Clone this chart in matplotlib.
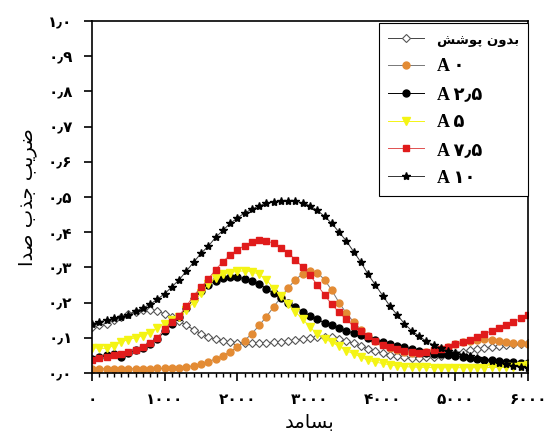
import matplotlib
matplotlib.use("Agg")
import matplotlib.pyplot as plt
from matplotlib.ticker import MultipleLocator, FixedLocator

# ---------------- data ----------------
freq = [0, 100, 200, 300, 400, 500, 600, 700, 800, 900,
        1000, 1100, 1200, 1300, 1400, 1500, 1600, 1700, 1800, 1900,
        2000, 2100, 2200, 2300, 2400, 2500, 2600, 2700, 2800, 2900,
        3000, 3100, 3200, 3300, 3400, 3500, 3600, 3700, 3800, 3900,
        4000, 4100, 4200, 4300, 4400, 4500, 4600, 4700, 4800, 4900,
        5000, 5100, 5200, 5300, 5400, 5500, 5600, 5700, 5800, 5900, 6000]

no_coating = [0.130, 0.135, 0.140, 0.150, 0.160, 0.168, 0.174, 0.178, 0.178, 0.175,
              0.168, 0.158, 0.147, 0.135, 0.123, 0.112, 0.103, 0.096, 0.091, 0.088,
              0.086, 0.085, 0.085, 0.085, 0.086, 0.087, 0.088, 0.091, 0.094, 0.097,
              0.099, 0.101, 0.102, 0.101, 0.097, 0.091, 0.084, 0.076, 0.069, 0.062,
              0.056, 0.051, 0.047, 0.044, 0.043, 0.043, 0.044, 0.046, 0.049, 0.053,
              0.057, 0.061, 0.065, 0.068, 0.071, 0.074, 0.077, 0.079, 0.081, 0.083, 0.085]

a0 = [0.012, 0.012, 0.012, 0.012, 0.012, 0.012, 0.012, 0.012, 0.012, 0.013,
      0.013, 0.014, 0.015, 0.017, 0.021, 0.026, 0.032, 0.040, 0.049, 0.060,
      0.074, 0.092, 0.112, 0.135, 0.160, 0.188, 0.215, 0.242, 0.265, 0.282,
      0.290, 0.285, 0.265, 0.235, 0.200, 0.170, 0.145, 0.123, 0.106, 0.092,
      0.081, 0.072, 0.066, 0.061, 0.058, 0.058, 0.060, 0.064, 0.069, 0.075,
      0.081, 0.087, 0.092, 0.095, 0.096, 0.095, 0.092, 0.089, 0.086, 0.084, 0.082]

a2_5 = [0.040, 0.045, 0.050, 0.055, 0.045, 0.058, 0.064, 0.072, 0.083, 0.097,
        0.118, 0.140, 0.160, 0.185, 0.210, 0.232, 0.250, 0.262, 0.270, 0.273,
        0.272, 0.268, 0.262, 0.252, 0.240, 0.226, 0.212, 0.200, 0.187, 0.174,
        0.162, 0.152, 0.143, 0.136, 0.128, 0.120, 0.113, 0.107, 0.100, 0.094,
        0.088, 0.083, 0.078, 0.074, 0.068, 0.062, 0.057, 0.055, 0.053, 0.051,
        0.048, 0.045, 0.042, 0.040, 0.038, 0.036, 0.034, 0.032, 0.030, 0.029, 0.028]

a5 = [0.072, 0.070, 0.070, 0.078, 0.088, 0.095, 0.100, 0.106, 0.115, 0.128,
      0.140, 0.150, 0.160, 0.180, 0.200, 0.228, 0.252, 0.270, 0.280, 0.285,
      0.289, 0.290, 0.288, 0.280, 0.265, 0.240, 0.218, 0.195, 0.173, 0.153,
      0.130, 0.110, 0.097, 0.087, 0.076, 0.063, 0.055, 0.045, 0.036, 0.031,
      0.027, 0.023, 0.020, 0.018, 0.017, 0.016, 0.016, 0.015, 0.015, 0.015,
      0.015, 0.015, 0.015, 0.015, 0.015, 0.016, 0.016, 0.016, 0.017, 0.019, 0.022]

a7_5 = [0.037, 0.042, 0.046, 0.050, 0.054, 0.059, 0.066, 0.074, 0.085, 0.100,
        0.125, 0.145, 0.163, 0.190, 0.220, 0.243, 0.267, 0.293, 0.316, 0.335,
        0.350, 0.362, 0.371, 0.377, 0.376, 0.368, 0.356, 0.340, 0.322, 0.300,
        0.278, 0.250, 0.222, 0.195, 0.172, 0.152, 0.133, 0.118, 0.104, 0.090,
        0.080, 0.074, 0.068, 0.062, 0.059, 0.058, 0.060, 0.064, 0.069, 0.075,
        0.081, 0.087, 0.094, 0.103, 0.111, 0.120, 0.129, 0.137, 0.145, 0.155, 0.165]

a10 = [0.140, 0.145, 0.150, 0.155, 0.160, 0.165, 0.175, 0.185, 0.195, 0.210,
       0.225, 0.245, 0.265, 0.290, 0.315, 0.340, 0.360, 0.385, 0.405, 0.425,
       0.440, 0.455, 0.465, 0.475, 0.482, 0.487, 0.490, 0.490, 0.488, 0.483,
       0.475, 0.462, 0.445, 0.425, 0.400, 0.375, 0.345, 0.315, 0.280, 0.250,
       0.220, 0.190, 0.165, 0.140, 0.120, 0.105, 0.090, 0.080, 0.070, 0.063,
       0.057, 0.052, 0.047, 0.042, 0.037, 0.033, 0.029, 0.025, 0.021, 0.018, 0.015]

x_tick_values = [0, 1000, 2000, 3000, 4000, 5000, 6000]
x_tick_labels = ["۰", "۱۰۰۰", "۲۰۰۰", "۳۰۰۰", "۴۰۰۰", "۵۰۰۰", "۶۰۰۰"]
y_tick_values = [0.0, 0.1, 0.2, 0.3, 0.4, 0.5, 0.6, 0.7, 0.8, 0.9, 1.0]
y_tick_labels = ["۰٫۰", "۰٫۱", "۰٫۲", "۰٫۳", "۰٫۴", "۰٫۵", "۰٫۶", "۰٫۷", "۰٫۸", "۰٫۹", "۱٫۰"]
x_label = "بسامد"
y_label = "ضریب جذب صدا"
series_labels = ["بدون پوشش", "A ۰", "A ۲٫۵", "A ۵", "A ۷٫۵", "A ۱۰"]

# -------------- simple Persian shaping (presentation forms + RTL) --------------
FORMS = {
    'ب': ('\uFE8F', '\uFE90', '\uFE91', '\uFE92'),
    'پ': ('\uFB56', '\uFB57', '\uFB58', '\uFB59'),
    'د': ('\uFEA9', '\uFEAA', None, None),
    'ذ': ('\uFEAB', '\uFEAC', None, None),
    'ر': ('\uFEAD', '\uFEAE', None, None),
    'و': ('\uFEED', '\uFEEE', None, None),
    'ا': ('\uFE8D', '\uFE8E', None, None),
    'ن': ('\uFEE5', '\uFEE6', '\uFEE7', '\uFEE8'),
    'س': ('\uFEB1', '\uFEB2', '\uFEB3', '\uFEB4'),
    'ش': ('\uFEB5', '\uFEB6', '\uFEB7', '\uFEB8'),
    'ص': ('\uFEB9', '\uFEBA', '\uFEBB', '\uFEBC'),
    'ض': ('\uFEBD', '\uFEBE', '\uFEBF', '\uFEC0'),
    'ج': ('\uFE9D', '\uFE9E', '\uFE9F', '\uFEA0'),
    'م': ('\uFEE1', '\uFEE2', '\uFEE3', '\uFEE4'),
    'ی': ('\uFBFC', '\uFBFD', '\uFBFE', '\uFBFF'),
}


def shape_fa(text):
    if not any(c in FORMS for c in text):
        return text
    out = []
    n = len(text)
    for i, c in enumerate(text):
        if c not in FORMS:
            out.append(c)
            continue
        f = FORMS[c]
        prev = text[i - 1] if i > 0 else None
        nxt = text[i + 1] if i < n - 1 else None
        join_prev = prev in FORMS and FORMS[prev][2] is not None
        join_next = nxt in FORMS and f[2] is not None
        if join_prev and join_next:
            out.append(f[3])
        elif join_prev:
            out.append(f[1])
        elif join_next:
            out.append(f[2])
        else:
            out.append(f[0])
    return ''.join(reversed(out))


# ---------------- plot ----------------
fig = plt.figure(figsize=(5.49, 4.34), dpi=100)
ax = fig.add_axes([0.1676, 0.1406, 0.7941, 0.8110])

styles = [
    dict(marker='D', ms=4.2, mfc='white', mec='#555555', mew=0.8, color='#444444', lw=0.7),
    dict(marker='o', ms=5.0, mfc='#E38B34', mec='#E38B34', color='#777777', lw=0.7),
    dict(marker='o', ms=5.0, mfc='black', mec='black', color='black', lw=0.7),
    dict(marker='v', ms=5.5, mfc='#F4F414', mec='#F4F414', color='#F4F414', lw=0.7),
    dict(marker='s', ms=4.6, mfc='#E01B1B', mec='#E01B1B', color='#E05050', lw=0.7),
    dict(marker='*', ms=6.0, mfc='black', mec='black', color='#333333', lw=0.7),
]
series = [no_coating, a0, a2_5, a5, a7_5, a10]

handles = []
for vals, st in zip(series, styles):
    h, = ax.plot(freq, vals, **st)
    handles.append(h)

ax.set_xlim(0, 6000)
ax.set_ylim(0, 1.0)
ax.xaxis.set_major_locator(FixedLocator(x_tick_values))
ax.xaxis.set_minor_locator(MultipleLocator(100))
ax.yaxis.set_major_locator(FixedLocator(y_tick_values))
ax.set_xticklabels(x_tick_labels, fontsize=11, fontweight='bold')
ax.set_yticklabels(y_tick_labels, fontsize=11, fontweight='bold')
ax.tick_params(axis='both', which='major', direction='out', length=6, width=1.2, pad=8)
ax.tick_params(axis='x', which='minor', direction='out', length=3, width=1.0)
for sp in ax.spines.values():
    sp.set_linewidth(1.2)

ax.set_xlabel(shape_fa(x_label), fontsize=14, labelpad=4)
ax.set_ylabel(shape_fa(y_label), fontsize=14, labelpad=8)

leg = ax.legend(handles, [shape_fa(s) for s in series_labels], loc='upper right',
                bbox_to_anchor=(1.0, 0.995),
                frameon=True, fancybox=False, edgecolor='black', framealpha=1,
                handlelength=2.0, handletextpad=0.7, borderaxespad=0.0,
                labelspacing=0.6, borderpad=0.5,
                prop={'family': ['Liberation Serif', 'DejaVu Sans'], 'weight': 'bold', 'size': 13})
leg.get_frame().set_linewidth(0.8)
leg.get_texts()[0].set_fontweight('bold')
leg.get_texts()[0].set_fontsize(9.5)
leg.get_texts()[0].set_family('DejaVu Sans')

fig.savefig('out.png', dpi=100)
